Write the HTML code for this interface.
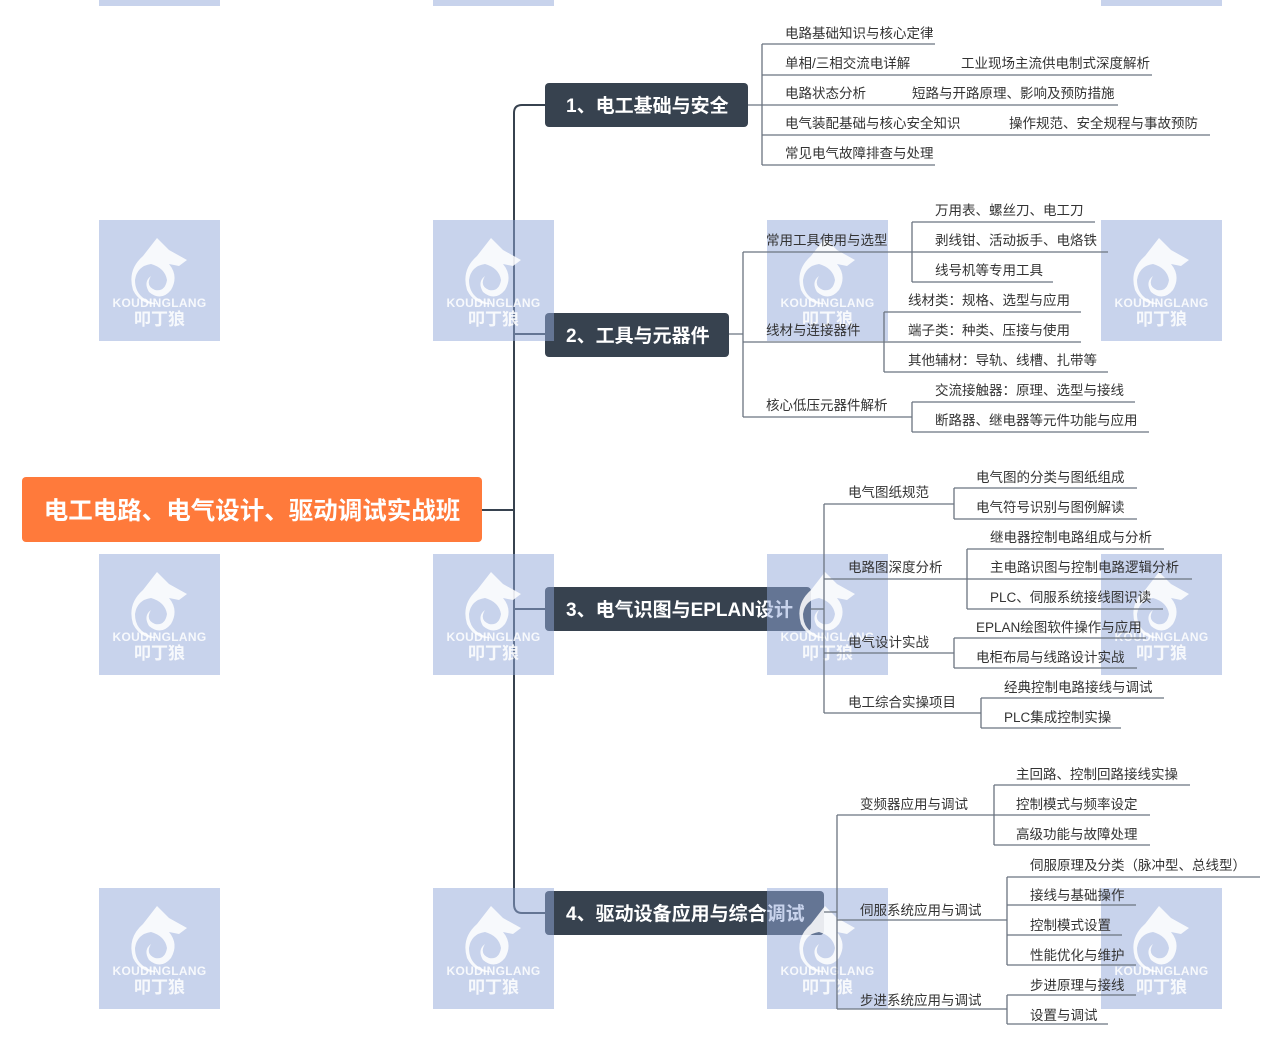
<!DOCTYPE html>
<html><head><meta charset="utf-8"><style>
html,body{margin:0;padding:0;background:#fff;width:1280px;height:1048px;overflow:hidden}
svg{display:block}
text{font-family:"Liberation Sans","Noto Sans CJK SC",sans-serif}
</style></head><body>
<svg width="1280" height="1048" viewBox="0 0 1280 1048" xmlns="http://www.w3.org/2000/svg">
<!-- root -->
<rect x="22" y="477" width="460" height="65" rx="4" fill="#ff7a3b"/>
<text x="252" y="519" text-anchor="middle" font-size="24.5" font-weight="bold" fill="#fff">电工电路、电气设计、驱动调试实战班</text>
<g stroke="#37424f" stroke-width="2" fill="none">
<path d="M482 510 H514"/>
<path d="M545 105 H522 Q514 105 514 113 V904 Q514 913 522 913 H545"/>
<path d="M514 334 H545 M514 609 H545"/>
</g>
<!-- main nodes -->
<g fill="#37424f">
<rect x="545" y="83" width="203" height="44" rx="4"/>
<rect x="545" y="313" width="184" height="44" rx="4"/>
<rect x="545" y="587" width="266" height="44" rx="4"/>
<rect x="545" y="891" width="279" height="44" rx="4"/>
</g>
<g font-size="19" font-weight="bold" fill="#fff">
<text x="566" y="112">1、电工基础与安全</text>
<text x="566" y="342">2、工具与元器件</text>
<text x="566" y="616">3、电气识图与EPLAN设计</text>
<text x="566" y="920">4、驱动设备应用与综合调试</text>
</g>
<!-- watermarks -->
<defs>
<g id="wm">
<rect x="0" y="0" width="121" height="121" fill="rgba(145,168,218,0.5)"/>
<path d="M58 18 L70 30 L88 40 L80 46 L70 44 Q80 56 72 70 Q62 82 50 72 Q44 62 52 56 Q46 66 56 70 Q66 72 68 60 Q66 48 52 44 Q38 46 36 60 Q36 80 60 84 Q42 86 34 70 Q28 50 44 36 Z" fill="rgba(255,255,255,0.85)"/>
<text x="60.5" y="87" text-anchor="middle" font-size="12" font-weight="bold" letter-spacing="0.3" fill="rgba(255,255,255,0.85)">KOUDINGLANG</text>
<text x="60.5" y="105" text-anchor="middle" font-size="17" font-weight="bold" fill="rgba(255,255,255,0.85)">叩丁狼</text>
</g>
</defs>
<use href="#wm" x="99" y="-115"/><use href="#wm" x="433" y="-115"/><use href="#wm" x="1101" y="-115"/>
<use href="#wm" x="99" y="220"/><use href="#wm" x="433" y="220"/><use href="#wm" x="767" y="220"/><use href="#wm" x="1101" y="220"/>
<use href="#wm" x="99" y="554"/><use href="#wm" x="433" y="554"/><use href="#wm" x="767" y="554"/><use href="#wm" x="1101" y="554"/>
<use href="#wm" x="99" y="888"/><use href="#wm" x="433" y="888"/><use href="#wm" x="767" y="888"/><use href="#wm" x="1101" y="888"/>
<!-- connectors -->
<g stroke="#6b7480" stroke-width="1.3" fill="none">
<path d="M748 105 H762 M762 44 V165 M762 44 H935 M762 75 H1152 M762 105 H1118 M762 135 H1210 M762 165 H935"/>
<path d="M729 334 H743 M743 252 V417"/>
<path d="M743 252 H1108 M912 222 V282 M912 222 H1095 M912 282 H1053"/>
<path d="M743 342 H1081 M884 312 V372 M884 312 H1081 M884 372 H1108"/>
<path d="M743 417 H912 M912 402 V432 M912 402 H1135 M912 432 H1149"/>
<path d="M811 609 H824 M824 504 V713"/>
<path d="M824 504 H954 M954 488 V519 M954 488 H1137 M954 519 H1137"/>
<path d="M824 579 H1192 M967 549 V609 M967 549 H1164 M967 609 H1163"/>
<path d="M824 653 H954 M954 638 V668 M954 638 H1146 M954 668 H1137"/>
<path d="M824 713 H981 M981 698 V728 M981 698 H1164 M981 728 H1121"/>
<path d="M824 912 H837 M837 815 V1009"/>
<path d="M837 815 H1150 M994 785 V845 M994 785 H1190 M994 845 H1150"/>
<path d="M837 920 H1007 M1007 877 V965 M1007 877 H1260 M1007 905 H1136 M1007 935 H1122 M1007 965 H1136"/>
<path d="M837 1009 H1007 M1007 995 V1024 M1007 995 H1136 M1007 1024 H1108"/>
</g>
<g font-size="13.5" fill="#333">
<text x="785" y="38">电路基础知识与核心定律</text>
<text x="785" y="68">单相/三相交流电详解</text><text x="961" y="68">工业现场主流供电制式深度解析</text>
<text x="785" y="98">电路状态分析</text><text x="912" y="98">短路与开路原理、影响及预防措施</text>
<text x="785" y="128">电气装配基础与核心安全知识</text><text x="1009" y="128">操作规范、安全规程与事故预防</text>
<text x="785" y="158">常见电气故障排查与处理</text>

<text x="766" y="245">常用工具使用与选型</text>
<text x="935" y="215">万用表、螺丝刀、电工刀</text>
<text x="935" y="245">剥线钳、活动扳手、电烙铁</text>
<text x="935" y="275">线号机等专用工具</text>
<text x="766" y="335">线材与连接器件</text>
<text x="908" y="305">线材类：规格、选型与应用</text>
<text x="908" y="335">端子类：种类、压接与使用</text>
<text x="908" y="365">其他辅材：导轨、线槽、扎带等</text>
<text x="766" y="410">核心低压元器件解析</text>
<text x="935" y="395">交流接触器：原理、选型与接线</text>
<text x="935" y="425">断路器、继电器等元件功能与应用</text>

<text x="848" y="497">电气图纸规范</text>
<text x="976" y="482">电气图的分类与图纸组成</text>
<text x="976" y="512">电气符号识别与图例解读</text>
<text x="848" y="572">电路图深度分析</text>
<text x="990" y="542">继电器控制电路组成与分析</text>
<text x="990" y="572">主电路识图与控制电路逻辑分析</text>
<text x="990" y="602">PLC、伺服系统接线图识读</text>
<text x="848" y="647">电气设计实战</text>
<text x="976" y="632">EPLAN绘图软件操作与应用</text>
<text x="976" y="662">电柜布局与线路设计实战</text>
<text x="848" y="707">电工综合实操项目</text>
<text x="1004" y="692">经典控制电路接线与调试</text>
<text x="1004" y="722">PLC集成控制实操</text>

<text x="860" y="809">变频器应用与调试</text>
<text x="1016" y="779">主回路、控制回路接线实操</text>
<text x="1016" y="809">控制模式与频率设定</text>
<text x="1016" y="839">高级功能与故障处理</text>
<text x="860" y="915">伺服系统应用与调试</text>
<text x="1030" y="870">伺服原理及分类（脉冲型、总线型）</text>
<text x="1030" y="900">接线与基础操作</text>
<text x="1030" y="930">控制模式设置</text>
<text x="1030" y="960">性能优化与维护</text>
<text x="860" y="1005">步进系统应用与调试</text>
<text x="1030" y="990">步进原理与接线</text>
<text x="1030" y="1020">设置与调试</text>
</g>
</svg>
</body></html>
